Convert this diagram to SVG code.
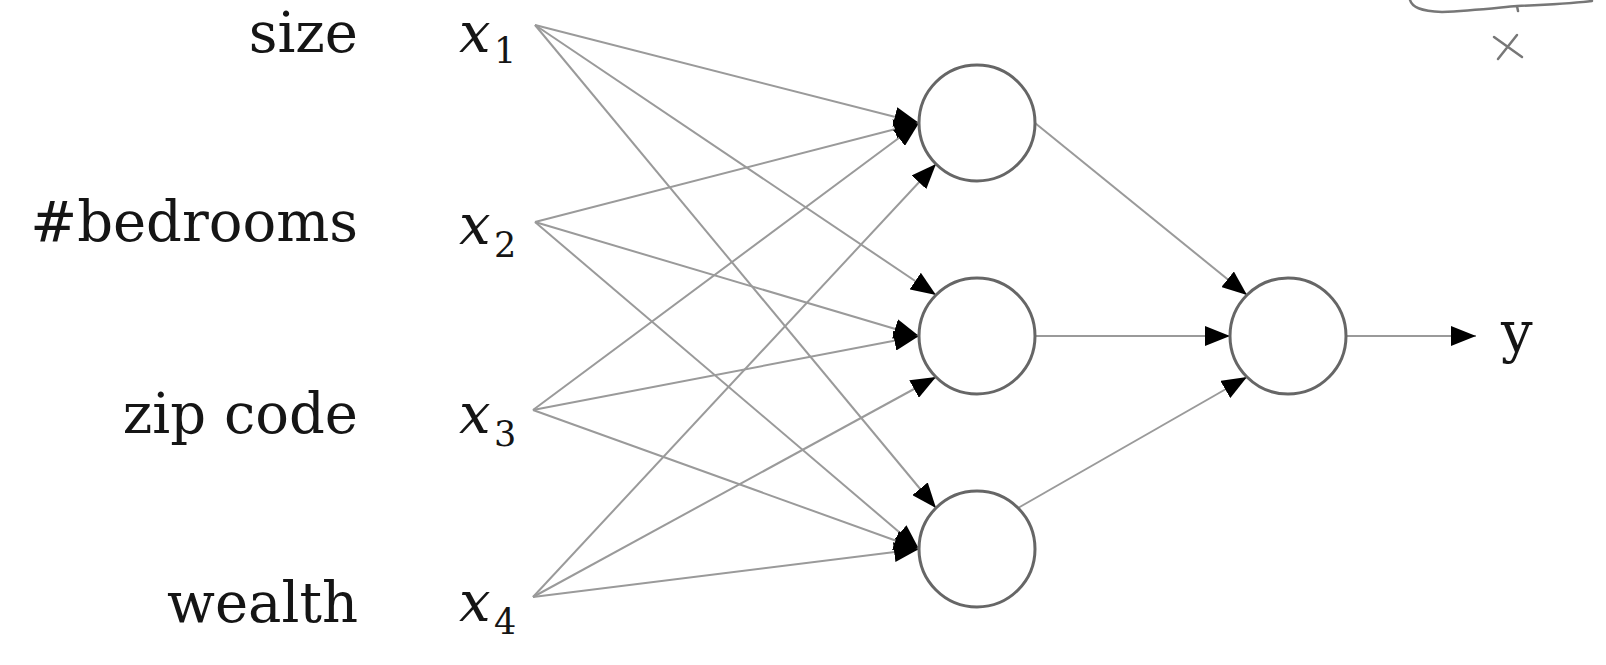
<svg xmlns="http://www.w3.org/2000/svg" width="1606" height="665" viewBox="0 0 1606 665">
  <style>
    .lbl { font-family: "DejaVu Serif", "Liberation Serif", serif; font-size: 56px; fill: #151515; }
    .var { font-family: "DejaVu Serif", "Liberation Serif", serif; font-size: 56px; font-style: italic; fill: #151515; }
    .sub { font-family: "DejaVu Serif", "Liberation Serif", serif; font-size: 35px; fill: #151515; }
    .node { fill: #ffffff; stroke: #666666; stroke-width: 3; }
    .edge { fill: none; stroke: #9a9a9a; stroke-width: 2; marker-end: url(#arrow); }
    .ink { fill: none; stroke: #777777; stroke-width: 2.5; stroke-linecap: round; stroke-linejoin: round; }
  </style>
  <defs>
    <marker id="arrow" markerUnits="userSpaceOnUse" markerWidth="26" markerHeight="20" refX="25" refY="10" orient="auto">
      <path d="M0,0 L25,10 L0,20 z" fill="#000000"/>
    </marker>
  </defs>
  <rect width="1606" height="665" fill="#ffffff"/>

  <g id="connectors">
    <line class="edge" x1="535" y1="25" x2="919" y2="123"/>
    <line class="edge" x1="535" y1="25" x2="936" y2="295"/>
    <line class="edge" x1="535" y1="25" x2="936" y2="508"/>
    <line class="edge" x1="535" y1="222" x2="919" y2="123"/>
    <line class="edge" x1="535" y1="222" x2="919" y2="336"/>
    <line class="edge" x1="535" y1="222" x2="919" y2="549"/>
    <line class="edge" x1="533" y1="410" x2="919" y2="123"/>
    <line class="edge" x1="533" y1="410" x2="919" y2="336"/>
    <line class="edge" x1="533" y1="410" x2="919" y2="549"/>
    <line class="edge" x1="533" y1="597" x2="936" y2="164"/>
    <line class="edge" x1="533" y1="597" x2="936" y2="377"/>
    <line class="edge" x1="533" y1="597" x2="919" y2="549"/>
    <line class="edge" x1="1035" y1="123" x2="1247" y2="295"/>
    <line class="edge" x1="1035" y1="336" x2="1230" y2="336"/>
    <line class="edge" x1="1018" y1="508" x2="1247" y2="377"/>
    <line class="edge" x1="1346" y1="336" x2="1476" y2="336"/>
  </g>

  <g id="in1">
    <text class="lbl" x="358" y="52" text-anchor="end">size</text>
    <text class="var" x="459" y="52">x</text>
    <text class="sub" x="494" y="63">1</text>
  </g>
  <g id="in2">
    <text class="lbl" x="358" y="241" text-anchor="end">#bedrooms</text>
    <text class="var" x="459" y="244">x</text>
    <text class="sub" x="494" y="257">2</text>
  </g>
  <g id="in3">
    <text class="lbl" x="358" y="433" text-anchor="end">zip code</text>
    <text class="var" x="459" y="433">x</text>
    <text class="sub" x="494" y="446">3</text>
  </g>
  <g id="in4">
    <text class="lbl" x="358" y="622" text-anchor="end">wealth</text>
    <text class="var" x="459" y="621">x</text>
    <text class="sub" x="494" y="634">4</text>
  </g>

  <g id="h1"><circle class="node" cx="977" cy="123" r="58"/></g>
  <g id="h2"><circle class="node" cx="977" cy="336" r="58"/></g>
  <g id="h3"><circle class="node" cx="977" cy="549" r="58"/></g>
  <g id="out"><circle class="node" cx="1288" cy="336" r="58"/></g>
  <g id="y-label"><text class="lbl" x="1501" y="352">y</text></g>

  <g id="annotation">
    <path class="ink" d="M1410,0 C1412,7 1420,11 1442,12 C1470,11 1495,8 1517,6 L1518,11 M1517,6 C1542,5 1566,4 1592,1"/>
    <path class="ink" d="M1494,37 L1522,57 M1517,35 L1498,59" stroke-width="2"/>
  </g>
</svg>
